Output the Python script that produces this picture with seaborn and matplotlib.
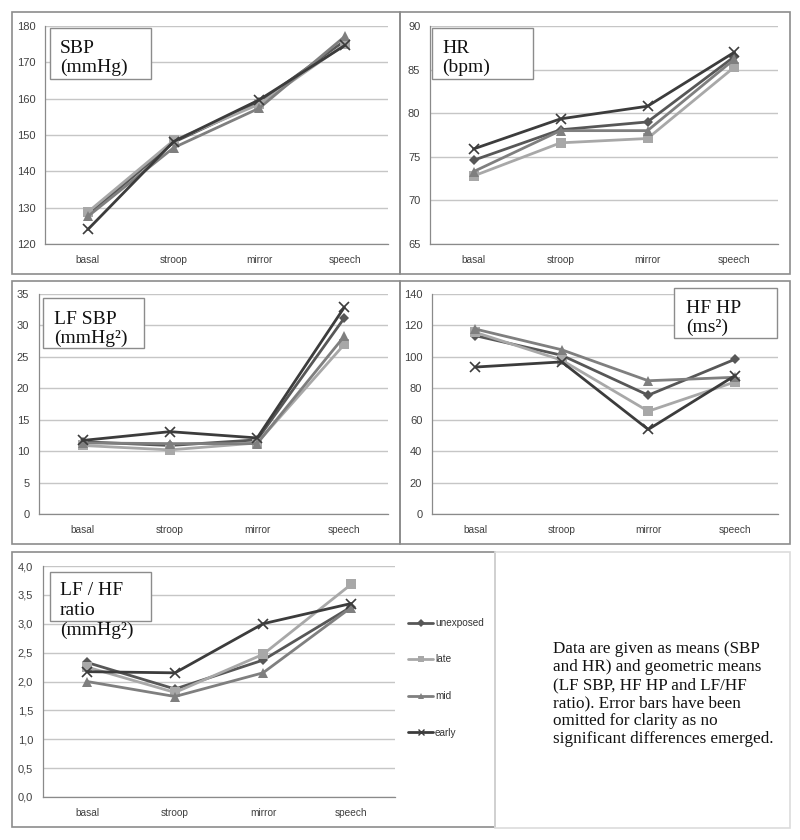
import matplotlib
matplotlib.use("Agg")
import matplotlib.pyplot as plt
from matplotlib.patches import Rectangle
from matplotlib.ticker import FuncFormatter, FixedLocator
from matplotlib.lines import Line2D
import seaborn as sns
import pandas as pd

# ---------------- data ----------------
conditions = ["basal", "stroop", "mirror", "speech"]
groups = ["unexposed", "late", "mid", "early"]

sbp_unexposed = [128.0, 148.0, 159.0, 176.0]
sbp_late = [128.8, 148.5, 158.5, 175.0]
sbp_mid = [127.6, 146.5, 157.4, 177.2]
sbp_early = [124.0, 148.2, 159.7, 174.7]

hr_unexposed = [74.6, 78.1, 79.0, 86.5]
hr_late = [72.8, 76.6, 77.1, 85.3]
hr_mid = [73.3, 78.0, 78.0, 86.2]
hr_early = [75.9, 79.35, 80.8, 87.0]

lfsbp_unexposed = [11.5, 10.9, 11.8, 31.2]
lfsbp_late = [10.9, 10.2, 11.3, 27.0]
lfsbp_mid = [11.3, 11.2, 11.2, 28.3]
lfsbp_early = [11.7, 13.1, 12.1, 32.9]

hfhp_unexposed = [113.5, 101.0, 75.6, 98.4]
hfhp_late = [115.6, 97.9, 65.4, 84.0]
hfhp_mid = [117.7, 104.5, 84.8, 87.0]
hfhp_early = [93.5, 96.8, 53.8, 88.0]

ratio_unexposed = [2.33, 1.87, 2.37, 3.29]
ratio_late = [2.25, 1.81, 2.47, 3.68]
ratio_mid = [2.00, 1.74, 2.15, 3.28]
ratio_early = [2.17, 2.15, 3.00, 3.35]

panel_titles = ["SBP\n(mmHg)", "HR\n(bpm)", "LF SBP\n(mmHg\u00b2)", "HF HP\n(ms\u00b2)",
                "LF / HF\nratio\n(mmHg\u00b2)"]
note_text = ("Data are given as means (SBP\nand HR) and geometric means\n"
             "(LF SBP, HF HP and LF/HF\nratio). Error bars have been\n"
             "omitted for clarity as no\nsignificant differences emerged.")

# ---------------- styling ----------------
sns.set_theme(style="white")
plt.rcParams["font.family"] = ["Liberation Sans", "DejaVu Sans"]

palette = {"unexposed": "#575757", "late": "#a8a8a8", "mid": "#7f7f7f", "early": "#3c3c3c"}
marker_list = {"unexposed": "D", "late": "s", "mid": "^", "early": "x"}
marker_size = {"unexposed": 5.5, "late": 6.5, "mid": 7, "early": 7}

W, H = 800, 840
fig = plt.figure(figsize=(W / 100, H / 100), dpi=100)


def fx(px):
    return px / W


def fy(py):
    return 1 - py / H


def add_axes(l, r, t, b):
    return fig.add_axes([fx(l), fy(b), fx(r - l), (b - t) / H])


def style_axes(ax, ymin, ymax, step, fmt=None):
    ax.set_xlim(-0.5, 3.5)
    ax.set_ylim(ymin, ymax)
    ticks = []
    v = ymin
    while v <= ymax + 1e-9:
        ticks.append(round(v, 6))
        v += step
    ax.yaxis.set_major_locator(FixedLocator(ticks))
    if fmt:
        ax.yaxis.set_major_formatter(FuncFormatter(fmt))
    ax.set_xticks(range(4))
    ax.set_xticklabels(conditions)
    ax.set_xticks([-0.5, 0.5, 1.5, 2.5, 3.5], minor=True)
    ax.tick_params(axis="x", which="major", length=0, pad=8, labelsize=7.3, labelcolor="#404040")
    ax.tick_params(axis="x", which="minor", length=4, width=0.8, color="#8a8a8a", direction="out")
    ax.tick_params(axis="y", which="major", length=4, width=0.8, color="#8a8a8a", direction="out",
                   labelsize=8, labelcolor="#404040", pad=3)
    ax.yaxis.grid(True, color="#c6c6c6", lw=1.0)
    ax.xaxis.grid(False)
    ax.set_axisbelow(True)
    for s in ["top", "right"]:
        ax.spines[s].set_visible(False)
    for s in ["left", "bottom"]:
        ax.spines[s].set_color("#8a8a8a")
        ax.spines[s].set_linewidth(0.9)
    ax.set_xlabel("")
    ax.set_ylabel("")
    ax.patch.set_alpha(0)


def draw(ax, series):
    for g, vals in zip(groups, series):
        df = pd.DataFrame({"x": range(len(conditions)), "value": vals})
        kw = dict(markeredgewidth=1.2) if marker_list[g] == "x" else dict(markeredgewidth=0)
        sns.lineplot(data=df, x="x", y="value", color=palette[g], marker=marker_list[g],
                     markersize=marker_size[g], linewidth=2.0, ax=ax, legend=False,
                     markeredgecolor=palette[g], **kw)


def frame(l, t, r, b, color="#8c8c8c", lw=1.2):
    fig.add_artist(Rectangle((fx(l), fy(b)), fx(r - l), (b - t) / H, transform=fig.transFigure,
                             fill=False, edgecolor=color, lw=lw))


def title_box(l, t, r, b, tx, ty, text, linespacing=1.13):
    fig.add_artist(Rectangle((fx(l), fy(b)), fx(r - l), (b - t) / H, transform=fig.transFigure,
                             facecolor="white", edgecolor="#8c8c8c", lw=1.0, zorder=5))
    fig.text(fx(tx), fy(ty), text, ha="left", va="top", fontsize=14,
             family=["Liberation Serif", "DejaVu Serif"], color="#111111",
             linespacing=linespacing, zorder=6)


# panel frames
frame(12, 12, 400, 274)
frame(400, 12, 790, 274)
frame(12, 281, 400, 544)
frame(400, 281, 790, 544)
frame(12, 552, 495, 827)
frame(495, 552, 790, 828, color="#dcdcdc")

comma = lambda v, p: f"{v:.1f}".replace(".", ",")
intf = lambda v, p: f"{v:.0f}"

ax1 = add_axes(45, 388, 26, 244)
draw(ax1, [sbp_unexposed, sbp_late, sbp_mid, sbp_early])
style_axes(ax1, 120, 180, 10, intf)

ax2 = add_axes(430, 778, 26, 244)
draw(ax2, [hr_unexposed, hr_late, hr_mid, hr_early])
style_axes(ax2, 65, 90, 5, intf)

ax3 = add_axes(39, 388, 294, 514)
draw(ax3, [lfsbp_unexposed, lfsbp_late, lfsbp_mid, lfsbp_early])
style_axes(ax3, 0, 35, 5, intf)

ax4 = add_axes(432, 778, 294, 514)
draw(ax4, [hfhp_unexposed, hfhp_late, hfhp_mid, hfhp_early])
style_axes(ax4, 0, 140, 20, intf)

ax5 = add_axes(43, 395, 566, 797)
draw(ax5, [ratio_unexposed, ratio_late, ratio_mid, ratio_early])
style_axes(ax5, 0, 4.0, 0.5, comma)

# title boxes
title_box(50, 28, 151, 79, 60, 40, panel_titles[0])
title_box(432, 28, 533, 79, 442, 40, panel_titles[1])
title_box(43, 298, 144, 348, 54, 311, panel_titles[2])
title_box(674, 288, 777, 338, 686, 300, panel_titles[3])
title_box(50, 572, 151, 621, 60, 582, panel_titles[4], linespacing=1.22)

# legend
handles = [Line2D([], [], color=palette[g], marker=marker_list[g], lw=2.0, markersize=4.5,
                  markeredgewidth=1.0 if marker_list[g] == "x" else 0) for g in groups]
fig.legend(handles, groups, loc="upper left", bbox_to_anchor=(fx(404), fy(614)), frameon=False,
           fontsize=7.2, handlelength=2.5, handletextpad=0.2, labelspacing=2.65,
           labelcolor="#333333", borderaxespad=0)

# note
fig.text(fx(553), fy(641), note_text, ha="left", va="top", fontsize=12.3,
         family=["Liberation Serif", "DejaVu Serif"], color="#111111", linespacing=1.17)

fig.savefig("out.png", dpi=100, facecolor="white")
